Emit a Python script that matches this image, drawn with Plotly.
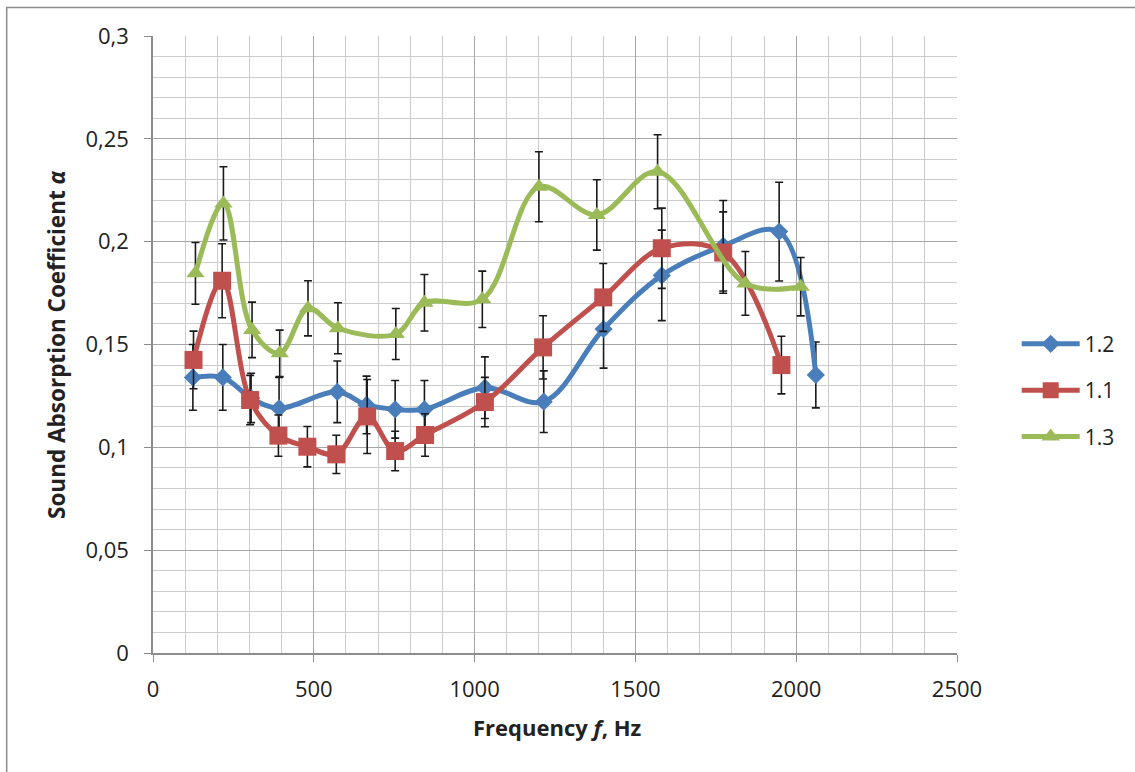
import plotly.graph_objects as go

# ---- data ----
f_12 = [124, 217, 305, 392, 573, 664, 753, 844, 1032, 1215, 1401, 1582, 1773, 1947, 2061]
a_12 = [0.134, 0.134, 0.124, 0.119, 0.127, 0.1206, 0.1185, 0.1185, 0.129, 0.1222, 0.1575, 0.1836, 0.198, 0.2049, 0.1352]
e_12 = [0.016, 0.016, 0.012, 0.015, 0.015, 0.014, 0.014, 0.014, 0.015, 0.015, 0.019, 0.022, 0.022, 0.024, 0.016]

f_11 = [126, 215, 302, 390, 480, 570, 666, 753, 846, 1032, 1213, 1400, 1582, 1773, 1954]
a_11 = [0.1425, 0.181, 0.123, 0.1057, 0.1003, 0.0966, 0.115, 0.0982, 0.106, 0.122, 0.1486, 0.1729, 0.1968, 0.1947, 0.140]
e_11 = [0.014, 0.018, 0.012, 0.010, 0.0098, 0.0093, 0.018, 0.0096, 0.0103, 0.012, 0.0154, 0.0165, 0.0195, 0.0198, 0.014]

f_13 = [132, 219, 308, 394, 482, 575, 755, 844, 1024, 1200, 1380, 1569, 1842, 2014]
a_13 = [0.1846, 0.2186, 0.1571, 0.1457, 0.1676, 0.1579, 0.1551, 0.1703, 0.172, 0.2267, 0.213, 0.234, 0.1797, 0.1781]
e_13 = [0.015, 0.0178, 0.0135, 0.0113, 0.0134, 0.0124, 0.0124, 0.0137, 0.0137, 0.017, 0.0171, 0.018, 0.0155, 0.0142]

x_tickvals = [0, 500, 1000, 1500, 2000, 2500]
x_ticktext = ["0", "500", "1000", "1500", "2000", "2500"]
y_tickvals = [0, 0.05, 0.1, 0.15, 0.2, 0.25, 0.3]
y_ticktext = ["0", "0,05", "0,1", "0,15", "0,2", "0,25", "0,3"]

series = [
    ("1.2", f_12, a_12, e_12, "#4A7EBB", "diamond", 14),
    ("1.1", f_11, a_11, e_11, "#C0504D", "square", 18),
    ("1.3", f_13, a_13, e_13, "#9BBB59", "triangle-up", 16),
]

FONT = "Open Sans"
TXT = "#222222"
W, H = 1135, 772
L, R, T, B = 153.3, 1135 - 957.3, 35.5, 772 - 653
pw, ph = W - L - R, H - T - B

fig = go.Figure()
for name, xs, ys, es, col, sym, sz in series:
    fig.add_trace(go.Scatter(
        x=xs, y=ys, name=name, mode="lines+markers", legendgroup=name,
        line=dict(color=col, width=5, shape="spline", smoothing=1.0),
        marker=dict(symbol=sym, size=sz, color=col, line=dict(width=0)),
        error_y=dict(type="data", array=es, visible=True, color="#1a1a1a",
                     thickness=1.6, width=4),
    ))

axis_font = dict(family=FONT, size=22, color=TXT)
fig.update_layout(
    width=W, height=H,
    margin=dict(l=L, r=R, t=T, b=B, pad=0),
    paper_bgcolor="white", plot_bgcolor="white",
    font=dict(family=FONT, size=21, color=TXT),
    showlegend=True,
    legend=dict(x=(1017 - L) / pw, y=(653 - 390) / ph, xanchor="left", yanchor="middle",
                traceorder="grouped", tracegroupgap=16, itemwidth=58,
                font=dict(family=FONT, size=21, color=TXT),
                bgcolor="rgba(0,0,0,0)"),
    xaxis=dict(range=[0, 2500], tickvals=x_tickvals, ticktext=x_ticktext,
               showgrid=True, gridcolor="#A6A6A6", gridwidth=1.3,
               minor=dict(dtick=100, tick0=0, showgrid=True, gridcolor="#CCCCCC", gridwidth=1.3),
               showline=True, linecolor="#8C8C8C", linewidth=1.5,
               ticks="outside", ticklen=7, tickcolor="#8C8C8C", tickwidth=1.3,
               ticklabelstandoff=9, tickfont=axis_font, zeroline=False),
    yaxis=dict(range=[0, 0.3], tickvals=y_tickvals, ticktext=y_ticktext,
               showgrid=True, gridcolor="#A6A6A6", gridwidth=1.3,
               minor=dict(dtick=0.01, tick0=0, showgrid=True, gridcolor="#CCCCCC", gridwidth=1.3),
               showline=True, linecolor="#8C8C8C", linewidth=1.5,
               ticks="outside", ticklen=7, tickcolor="#8C8C8C", tickwidth=1.3,
               ticklabelstandoff=11, tickfont=axis_font, zeroline=False),
    annotations=[
        dict(text="<b>Frequency <i>f</i>, Hz</b>", xref="paper", yref="paper",
             x=(557 - L) / pw, y=(653 - 727) / ph, xanchor="center", yanchor="middle",
             showarrow=False, font=dict(family=FONT, size=22, color=TXT)),
        dict(text="<b>Sound Absorption Coefficient <i>α</i></b>", xref="paper", yref="paper",
             x=(57 - L) / pw, y=(653 - 345) / ph, xanchor="center", yanchor="middle",
             textangle=-90, showarrow=False, font=dict(family=FONT, size=22.5, color=TXT)),
    ],
    shapes=[
        dict(type="rect", xref="paper", yref="paper",
             x0=(7 - L) / pw, x1=(1160 - L) / pw, y0=(653 - 800) / ph, y1=(653 - 7) / ph,
             line=dict(color="#8C8C8C", width=1.5), fillcolor="rgba(0,0,0,0)", layer="below"),
    ],
)

fig.write_html("out.html", config={"displayModeBar": False},
               post_script="document.body.style.margin='0px';document.body.style.overflow='hidden';")
